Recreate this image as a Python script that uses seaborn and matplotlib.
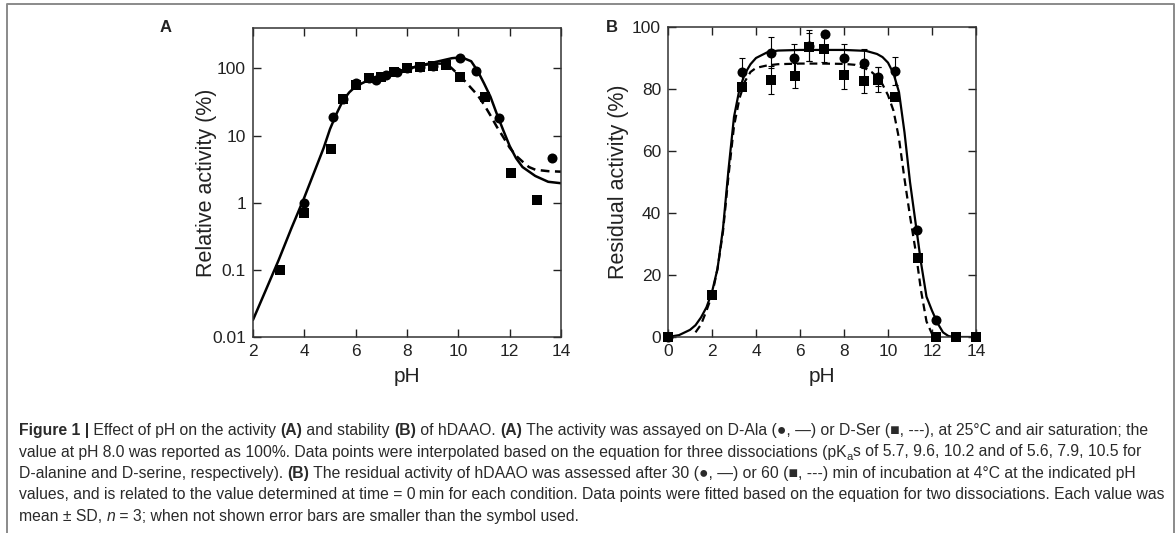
import numpy as np
import matplotlib
matplotlib.use('Agg')
import matplotlib.pyplot as plt
import seaborn as sns
from matplotlib.ticker import FixedLocator, FixedFormatter, NullLocator
from matplotlib.lines import Line2D

# ---- panel A: activity vs pH (log scale) ----
ala_ph = [4.0, 5.1, 5.5, 6.0, 6.5, 6.8, 7.2, 7.6, 8.0, 8.5, 9.0, 10.05, 10.7, 11.6, 13.65]
ala_act = [1.0, 19, 35, 60, 72, 68, 80, 88, 100, 105, 110, 145, 93, 18, 4.6]

ser_ph = [3.05, 4.0, 5.05, 5.5, 6.0, 6.5, 7.0, 7.5, 8.0, 8.5, 9.0, 9.5, 10.05, 11.05, 12.05, 13.05]
ser_act = [0.1, 0.7, 6.3, 35, 57, 72, 75, 88, 100, 105, 110, 112, 74, 38, 2.8, 1.1]

fit_ala_ph = [2.0, 2.5, 3.0, 3.5, 4.0, 4.5, 4.75, 5.0, 5.25, 5.5, 5.75, 6.0, 6.5, 7.0, 7.5,
              8.0, 8.5, 9.0, 9.5, 9.75, 10.0, 10.25, 10.5, 10.75, 11.0, 11.25, 11.5, 11.75,
              12.0, 12.25, 12.5, 13.0, 13.5, 14.0]
fit_ala_act = [0.018, 0.05, 0.14, 0.42, 1.2, 3.7, 6.5, 12.5, 21, 33, 44, 54, 67, 78, 88,
               98, 110, 122, 135, 142, 145, 140, 128, 92, 60, 38, 21, 12,
               7.0, 4.6, 3.4, 2.5, 2.05, 1.95]

fit_ser_ph = [8.0, 8.5, 9.0, 9.4, 9.7, 9.85, 10.0, 10.25, 10.5, 10.75, 11.0, 11.25, 11.5,
              11.75, 12.0, 12.25, 12.5, 12.75, 13.0, 13.5, 14.0]
fit_ser_act = [98, 110, 118, 118, 104, 92, 80, 65, 51, 40, 29, 20, 13.5,
               9.5, 6.6, 5.0, 4.1, 3.4, 3.1, 2.95, 2.9]

# ---- panel B: residual activity vs pH ----
t30_ph = [0.0, 3.35, 4.67, 5.74, 6.4, 7.14, 8.0, 8.9, 9.56, 10.32, 11.3, 12.2]
t30_act = [0, 85.6, 91.7, 89.9, 94, 97.6, 89.9, 88.3, 84, 85.8, 34.5, 5.5]
t30_err = [0, 4.5, 5, 4.5, 5, 0, 4.5, 4.5, 3, 4.6, 0, 0]

t60_ph = [0.0, 2.0, 3.37, 4.68, 5.75, 6.43, 7.1, 8.0, 8.9, 9.55, 10.33, 11.38, 12.2, 13.1, 14.0]
t60_act = [0, 13.5, 80.7, 82.9, 84.3, 93.6, 92.8, 84.5, 82.7, 83, 77.5, 25.4, 0, 0, 0]
t60_err = [0, 0, 0, 4.5, 4, 4.6, 4, 4.5, 4, 4, 0, 0, 0, 0, 0]

fit30_ph = [0.0, 0.5, 1.0, 1.25, 1.5, 1.75, 2.0, 2.25, 2.5, 2.75, 3.0, 3.25, 3.5, 3.75, 4.0,
            4.5, 5.0, 6.0, 7.0, 8.0, 9.0, 9.5, 9.75, 10.0, 10.25, 10.5, 10.75, 11.0, 11.25,
            11.5, 11.75, 12.0, 12.25, 12.5, 12.75, 13.0, 14.0]
fit30_act = [0, 0.6, 2.3, 3.8, 6.3, 9.6, 14.5, 22, 35, 54, 71, 80, 85, 88, 90,
             91.8, 92.4, 92.6, 92.6, 92.6, 92.3, 91.3, 90.3, 88.5, 85, 79, 66, 50, 37,
             24, 13, 8.5, 4.5, 1.5, 0.3, 0, 0]

fit60_ph = [1.25, 1.5, 1.75, 2.0, 2.25, 2.5, 2.75, 3.0, 3.25, 3.5, 3.75, 4.0, 4.5, 5.0, 6.0,
            7.0, 8.0, 8.5, 9.0, 9.25, 9.5, 9.75, 10.0, 10.25, 10.5, 10.75, 11.0, 11.25, 11.5,
            11.75, 12.0, 12.25]
fit60_act = [1.5, 4, 8.5, 13.5, 22, 34, 52, 68, 77, 82.5, 85.5, 86.8, 87.6, 88, 88.2,
             88.2, 88.1, 87.8, 86.5, 85.5, 84, 81.5, 78, 73, 64, 51, 39, 28, 15,
             5, 1, 0]

caption = [
    [('Figure 1 |', 'b'), (' Effect of pH on the activity ', 'r'), ('(A)', 'b'),
     (' and stability ', 'r'), ('(B)', 'b'), (' of hDAAO. ', 'r'), ('(A)', 'b'),
     (' The activity was assayed on D-Ala (\u25cf, \u2014) or D-Ser (\u25a0, ---), at 25\u00b0C and air saturation; the', 'r')],
    [('value at pH 8.0 was reported as 100%. Data points were interpolated based on the equation for three dissociations (pK', 'r'),
     ('a', 's'), ('s of 5.7, 9.6, 10.2 and of 5.6, 7.9, 10.5 for', 'r')],
    [('D-alanine and D-serine, respectively). ', 'r'), ('(B)', 'b'),
     (' The residual activity of hDAAO was assessed after 30 (\u25cf, \u2014) or 60 (\u25a0, ---) min of incubation at 4\u00b0C at the indicated pH', 'r')],
    [('values, and is related to the value determined at time = 0\u2009min for each condition. Data points were fitted based on the equation for two dissociations. Each value was', 'r')],
    [('mean \u00b1 SD, ', 'r'), ('n', 'i'), (' = 3; when not shown error bars are smaller than the symbol used.', 'r')],
]

sns.set_style('ticks')
plt.rcParams['font.family'] = ['Liberation Sans', 'DejaVu Sans']

W, H = 1176, 533
fig = plt.figure(figsize=(W / 100, H / 100), dpi=100)


def px_box(l, t, r, b):
    return [l / W, 1 - b / H, (r - l) / W, (b - t) / H]


axA = fig.add_axes(px_box(253, 28, 561, 337))
axB = fig.add_axes(px_box(668, 27, 976, 337))

dash = (0, (3.5, 2.2))

# panel A
sns.lineplot(x=fit_ala_ph, y=fit_ala_act, ax=axA, color='k', lw=1.8)
sns.lineplot(x=fit_ser_ph, y=fit_ser_act, ax=axA, color='k', lw=1.8, linestyle=dash)
sns.scatterplot(x=ser_ph, y=ser_act, ax=axA, marker='s', s=55, color='k', linewidth=0, zorder=3, clip_on=False)
sns.scatterplot(x=ala_ph, y=ala_act, ax=axA, marker='o', s=52, color='k', linewidth=0, zorder=4, clip_on=False)
axA.set_yscale('log')
axA.set_xlim(2, 14)
axA.set_ylim(0.01, 400)
axA.set_xticks([2, 4, 6, 8, 10, 12, 14])
axA.yaxis.set_major_locator(FixedLocator([0.01, 0.1, 1, 10, 100]))
axA.yaxis.set_major_formatter(FixedFormatter(['0.01', '0.1', '1', '10', '100']))
axA.yaxis.set_minor_locator(NullLocator())
axA.set_ylabel('Relative activity (%)', fontsize=15.5, color='#222222')
axA.yaxis.set_label_coords(-0.118, 0.5)

# panel B
sns.lineplot(x=fit30_ph, y=fit30_act, ax=axB, color='k', lw=1.6)
sns.lineplot(x=fit60_ph, y=fit60_act, ax=axB, color='k', lw=1.6, linestyle=dash)
e30 = np.array(t30_err) > 0
e60 = np.array(t60_err) > 0
axB.errorbar(np.array(t30_ph)[e30], np.array(t30_act)[e30], yerr=np.array(t30_err)[e30],
             fmt='none', ecolor='k', elinewidth=0.8, capsize=2.5, capthick=0.8, zorder=2)
axB.errorbar(np.array(t60_ph)[e60], np.array(t60_act)[e60], yerr=np.array(t60_err)[e60],
             fmt='none', ecolor='k', elinewidth=0.8, capsize=2.5, capthick=0.8, zorder=2)
sns.scatterplot(x=t30_ph, y=t30_act, ax=axB, marker='o', s=52, color='k', linewidth=0, zorder=3, clip_on=False)
sns.scatterplot(x=t60_ph, y=t60_act, ax=axB, marker='s', s=55, color='k', linewidth=0, zorder=4, clip_on=False)
axB.set_xlim(0, 14)
axB.set_ylim(0, 100)
axB.set_xticks([0, 2, 4, 6, 8, 10, 12, 14])
axB.set_yticks([0, 20, 40, 60, 80, 100])
axB.set_ylabel('Residual activity (%)', fontsize=15.5, labelpad=2, color='#222222')

for ax in (axA, axB):
    ax.set_xlabel('pH', fontsize=15, labelpad=6, color='#222222')
    ax.tick_params(direction='in', top=True, right=True, length=6, width=1,
                   labelsize=12.5, colors='#222222', pad=5)
    for sp in ax.spines.values():
        sp.set_linewidth(1.1)
        sp.set_color('#333333')
    ax.set_facecolor('white')

fig.text(166 / W, 1 - 28 / H, 'A', fontsize=12, fontweight='bold', ha='center', va='center', color='#222222')
fig.text(612 / W, 1 - 27 / H, 'B', fontsize=12, fontweight='bold', ha='center', va='center', color='#222222')

# frame around figure + caption
fig.add_artist(Line2D([7 / W, 7 / W, 1174 / W, 1174 / W], [0, 1 - 4 / H, 1 - 4 / H, 0],
                      transform=fig.transFigure, color='#8a8a8a', lw=1.4))

# caption, written piece by piece so bold/italic parts sit inline
fs = 11.3
renderer = fig.canvas.get_renderer()
props = {
    'r': dict(fontsize=fs),
    'b': dict(fontsize=fs, fontweight='bold'),
    'i': dict(fontsize=fs, fontstyle='italic'),
    's': dict(fontsize=fs * 0.72),
}


def piece_width(s, kw):
    t = fig.text(0, 0, '|' + s + '|', **kw)
    t0 = fig.text(0, 0, '||', **kw)
    w = t.get_window_extent(renderer).width - t0.get_window_extent(renderer).width
    t.remove()
    t0.remove()
    return w


baselines = [435, 456.5, 478, 499.5, 521]
for line, base in zip(caption, baselines):
    x = 19
    for s, style in line:
        kw = props[style]
        dy = -3 if style == 's' else 0
        fig.text(x / W, 1 - (base - dy) / H, s, ha='left', va='baseline', color='#2a2a2a', **kw)
        x += piece_width(s, kw)

fig.savefig('out.png', dpi=100, facecolor='white')
